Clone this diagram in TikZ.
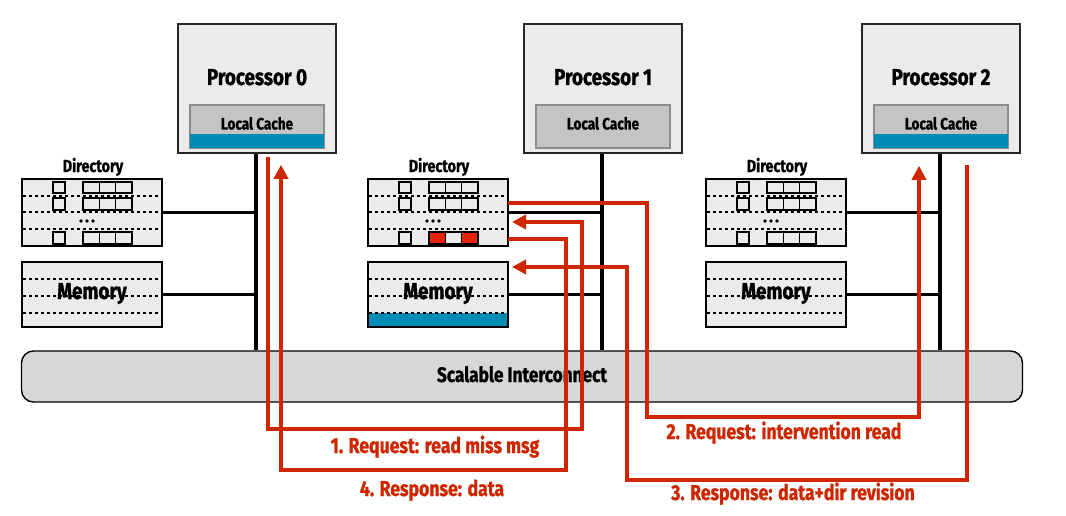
\documentclass[tikz,border=0pt]{standalone}
\usepackage{fontspec}
\setmainfont{Fira Sans}[FakeStretch=0.82,BoldFeatures={FakeBold=1.1}]
\usetikzlibrary{arrows.meta,calc}
\definecolor{msgred}{HTML}{CD2600}
\definecolor{cellred}{HTML}{E3240B}
\definecolor{cacheblue}{HTML}{008CB4}
\definecolor{boxgray}{HTML}{EBEBEB}
\definecolor{cachegray}{HTML}{C4C4C4}
\definecolor{cacheedge}{HTML}{8C8C8C}
\definecolor{busgray}{HTML}{D7D7D7}
\begin{document}
\begin{tikzpicture}[x=1pt,y=-1pt,
  proc/.style={draw=black!85,line width=1.6pt,fill=boxgray,minimum width=158pt,minimum height=129pt,inner sep=0pt},
  ptitle/.style={anchor=base,font=\bfseries\fontsize{23}{23}\selectfont,inner sep=0pt},
  cache/.style={draw=cacheedge,line width=1.2pt,fill=cachegray,minimum width=134pt,minimum height=43pt,inner sep=0pt},
  ctitle/.style={anchor=base,font=\bfseries\fontsize{16.5}{16.5}\selectfont,inner sep=0pt},
  dirbox/.style={draw=black,line width=1.8pt,fill=boxgray,minimum width=140pt,minimum height=67pt,inner sep=0pt,outer sep=0pt},
  membox/.style={fill=boxgray,minimum width=140pt,minimum height=65pt,inner sep=0pt,outer sep=0pt},
  dlabel/.style={anchor=base,font=\bfseries\fontsize{17.5}{17.5}\selectfont,inner sep=0pt},
  mlabel/.style={anchor=base,font=\bfseries\fontsize{23}{23}\selectfont,inner sep=0pt},
  sep/.style={line width=1.1pt,dash pattern=on 3pt off 3pt},
  cell/.style={draw=black,line width=1.3pt,fill=boxgray},
  wire/.style={draw=black,line width=3.1pt},
  bus/.style={draw=black,line width=1.4pt,fill=busgray,rounded corners=12pt,minimum width=1001pt,minimum height=51pt,inner sep=0pt},
  msg/.style={draw=msgred,line width=3.8pt},
  msgtip/.style={msg,-{Triangle[length=14pt,width=14pt]}},
  mtext/.style={anchor=base,text=msgred,font=\bfseries\fontsize{21.5}{21.5}\selectfont,inner sep=0pt}]
\useasboundingbox (0,0) rectangle (1066,516);

% interconnect
\node[bus] (B) at (522,376.5) {};
\node[anchor=base,font=\bfseries\fontsize{21}{21}\selectfont,inner sep=0pt] (Bt) at (522,382) {Scalable Interconnect};

% processors with their local caches
\foreach \i/\px in {0/257,1/603,2/941}{
  \node[proc] (P\i) at (\px,88.5) {};
  \node[ptitle] (P\i t) at (\px,85) {Processor \i};
  \node[cache] (C\i) at (\px,126.5) {};
  \node[ctitle] (C\i t) at (\px,129.5) {Local Cache};
}
% cached line held in Processor 0 and Processor 2
\foreach \i in {0,2}{
  \fill[cacheblue] ($(C\i.south west)+(0.6,-0.6)$) rectangle ($(C\i.south east)+(-0.6,-15)$);
}

% directories and memories
\foreach \i/\px/\dx in {0/257/22,1/603/368,2/941/706}{
  \node[dirbox] (D\i) at (\dx+70,212.5) {};
  \node[dlabel] (D\i l) at (\dx+71,172) {Directory};
  \foreach \yy in {196,212,229}
    \draw[sep] (\dx+1,\yy) -- (\dx+139,\yy);
  \foreach \ya/\yb in {182/193,198/210,232/244}{
    \draw[cell] (\dx+31,\ya) rectangle (\dx+43,\yb);
    \draw[cell] (\dx+61,\ya) rectangle (\dx+77.3,\yb);
    \draw[cell] (\dx+77.3,\ya) rectangle (\dx+93.6,\yb);
    \draw[cell] (\dx+93.6,\ya) rectangle (\dx+110,\yb);
  }
  \foreach \xx in {59,65,71}
    \fill (\dx+\xx,221) circle (1.8);
  \node[membox] (M\i) at (\dx+70,294.5) {};
}
% memory line owned by the home node
\fill[cacheblue] (368,313) rectangle (508,327);
\foreach \i/\px/\dx in {0/257/22,1/603/368,2/941/706}{
  \foreach \yy in {279,296,313}
    \draw[sep] (\dx+1,\yy) -- (\dx+139,\yy);
  \draw[draw=black,line width=1.8pt] (M\i.north west) rectangle (M\i.south east);
  \node[mlabel] (M\i l) at (\dx+70,299) {Memory};
}
% directory entry of the requested line
\draw[cell,fill=cellred] (429,232) rectangle (445.3,244);
\draw[cell,fill=boxgray] (445.3,232) rectangle (461.6,244);
\draw[cell,fill=cellred] (461.6,232) rectangle (478,244);

% node-to-interconnect wiring
\foreach \i in {0,1,2}{
  \draw[wire] ([xshift=-1pt]P\i.south) -- ([xshift=-1pt]P\i.south |- B.north);
  \draw[wire] (D\i.east) -- ([xshift=-1pt]D\i.east -| P\i.south);
  \draw[wire] (M\i.east) -- ([xshift=-1pt]M\i.east -| P\i.south);
}

% 1. read miss request: Processor 0 -> home directory
\draw[msgtip] ([xshift=11pt,yshift=-3pt]P0.south) |- (582,429) |- ([xshift=4pt,yshift=-9.5pt]D1.east);
% 4. data response: home directory -> Processor 0
\draw[msgtip] ([yshift=-26.5pt]D1.east) -| (566,470) -| ([xshift=24pt,yshift=-11pt]P0.south);
% 2. intervention read: home directory -> Processor 2
\draw[msgtip] ([yshift=9.5pt]D1.east) -| (647,417) -| ([xshift=-22pt,yshift=-12pt]P2.south);
% 3. data + directory revision: Processor 2 -> home memory
\draw[msgtip] ([xshift=26pt,yshift=-11pt]P2.south) |- (627,480) |- ([xshift=4pt,yshift=27.5pt]M1.east);

\node[mtext] (L1) at (435,453) {1. Request: read miss msg};
\node[mtext] (L4) at (432,496) {4. Response: data};
\node[mtext] (L2) at (784,439) {2. Request: intervention read};
\node[mtext] (L3) at (793,500) {3. Response: data+dir revision};
\end{tikzpicture}
\end{document}
